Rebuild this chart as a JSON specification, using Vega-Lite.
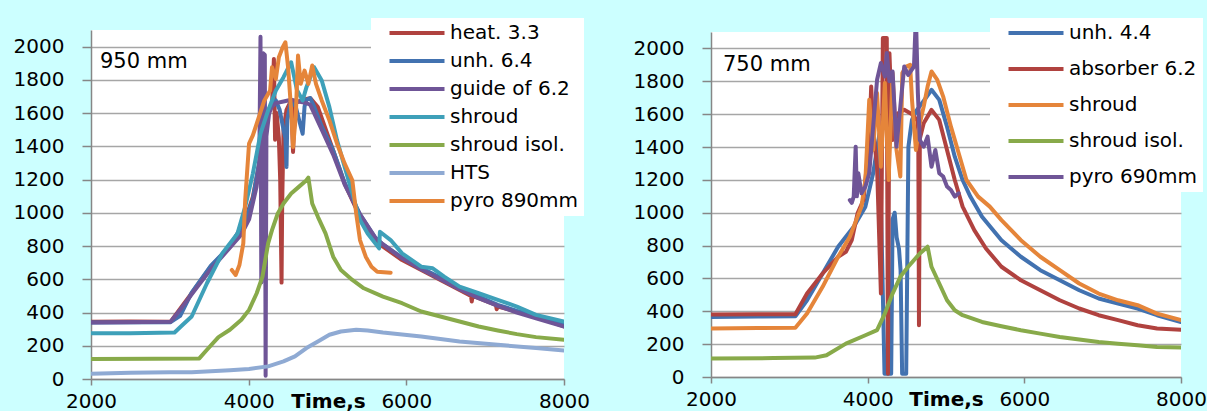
{
"$schema": "https://vega.github.io/schema/vega-lite/v6.json",
"background": "#ccffff",
"padding": {"left": 13, "top": 18, "right": 0, "bottom": 0},
"autosize": {"type": "pad"},
"datasets": {
"left": [
{"s":"heat. 3.3","t":2000,"v":345},{"s":"heat. 3.3","t":2500,"v":346},{"s":"heat. 3.3","t":3010,"v":345},{"s":"heat. 3.3","t":3277,"v":516},{"s":"heat. 3.3","t":3519,"v":676},{"s":"heat. 3.3","t":3762,"v":796},{"s":"heat. 3.3","t":3956,"v":956},{"s":"heat. 3.3","t":4053,"v":1096},{"s":"heat. 3.3","t":4150,"v":1336},{"s":"heat. 3.3","t":4247,"v":1616},{"s":"heat. 3.3","t":4296,"v":1650},{"s":"heat. 3.3","t":4320,"v":1926},{"s":"heat. 3.3","t":4335,"v":1440},{"s":"heat. 3.3","t":4355,"v":1600},{"s":"heat. 3.3","t":4383,"v":1450},{"s":"heat. 3.3","t":4400,"v":1200},{"s":"heat. 3.3","t":4417,"v":580},{"s":"heat. 3.3","t":4425,"v":1050},{"s":"heat. 3.3","t":4442,"v":1500},{"s":"heat. 3.3","t":4480,"v":1620},{"s":"heat. 3.3","t":4539,"v":1676},{"s":"heat. 3.3","t":4563,"v":1366},{"s":"heat. 3.3","t":4590,"v":1660},{"s":"heat. 3.3","t":4685,"v":1680},{"s":"heat. 3.3","t":4781,"v":1690},{"s":"heat. 3.3","t":4878,"v":1636},{"s":"heat. 3.3","t":5072,"v":1376},{"s":"heat. 3.3","t":5218,"v":1176},{"s":"heat. 3.3","t":5412,"v":976},{"s":"heat. 3.3","t":5607,"v":836},{"s":"heat. 3.3","t":5704,"v":796},{"s":"heat. 3.3","t":5946,"v":716},{"s":"heat. 3.3","t":6189,"v":656},{"s":"heat. 3.3","t":6432,"v":596},{"s":"heat. 3.3","t":6675,"v":536},{"s":"heat. 3.3","t":6820,"v":500},{"s":"heat. 3.3","t":6830,"v":466},{"s":"heat. 3.3","t":6840,"v":500},{"s":"heat. 3.3","t":6917,"v":486},{"s":"heat. 3.3","t":7136,"v":446},{"s":"heat. 3.3","t":7146,"v":420},{"s":"heat. 3.3","t":7160,"v":436},{"s":"heat. 3.3","t":7402,"v":406},{"s":"heat. 3.3","t":7645,"v":376},{"s":"heat. 3.3","t":8000,"v":316},
{"s":"unh. 6.4","t":2000,"v":340},{"s":"unh. 6.4","t":3010,"v":342},{"s":"unh. 6.4","t":3131,"v":380},{"s":"unh. 6.4","t":3277,"v":520},{"s":"unh. 6.4","t":3519,"v":680},{"s":"unh. 6.4","t":3762,"v":800},{"s":"unh. 6.4","t":3956,"v":950},{"s":"unh. 6.4","t":4053,"v":1080},{"s":"unh. 6.4","t":4150,"v":1350},{"s":"unh. 6.4","t":4223,"v":1580},{"s":"unh. 6.4","t":4296,"v":1660},{"s":"unh. 6.4","t":4345,"v":1676},{"s":"unh. 6.4","t":4393,"v":1620},{"s":"unh. 6.4","t":4442,"v":1500},{"s":"unh. 6.4","t":4466,"v":1450},{"s":"unh. 6.4","t":4480,"v":1276},{"s":"unh. 6.4","t":4490,"v":1560},{"s":"unh. 6.4","t":4539,"v":1676},{"s":"unh. 6.4","t":4597,"v":1640},{"s":"unh. 6.4","t":4660,"v":1520},{"s":"unh. 6.4","t":4685,"v":1476},{"s":"unh. 6.4","t":4709,"v":1640},{"s":"unh. 6.4","t":4733,"v":1680},{"s":"unh. 6.4","t":4781,"v":1690},{"s":"unh. 6.4","t":4830,"v":1640},{"s":"unh. 6.4","t":4927,"v":1520},{"s":"unh. 6.4","t":5072,"v":1376},{"s":"unh. 6.4","t":5218,"v":1180},{"s":"unh. 6.4","t":5412,"v":990},{"s":"unh. 6.4","t":5607,"v":850},{"s":"unh. 6.4","t":5704,"v":810},{"s":"unh. 6.4","t":5946,"v":730},{"s":"unh. 6.4","t":6189,"v":668},{"s":"unh. 6.4","t":6432,"v":610},{"s":"unh. 6.4","t":6675,"v":548},{"s":"unh. 6.4","t":6917,"v":496},{"s":"unh. 6.4","t":7160,"v":446},{"s":"unh. 6.4","t":7402,"v":410},{"s":"unh. 6.4","t":7645,"v":380},{"s":"unh. 6.4","t":8000,"v":330},
{"s":"guide of 6.2","t":2000,"v":340},{"s":"guide of 6.2","t":3010,"v":345},{"s":"guide of 6.2","t":3131,"v":416},{"s":"guide of 6.2","t":3277,"v":510},{"s":"guide of 6.2","t":3519,"v":660},{"s":"guide of 6.2","t":3762,"v":790},{"s":"guide of 6.2","t":3908,"v":870},{"s":"guide of 6.2","t":4005,"v":960},{"s":"guide of 6.2","t":4100,"v":1156},{"s":"guide of 6.2","t":4135,"v":1300},{"s":"guide of 6.2","t":4140,"v":1560},{"s":"guide of 6.2","t":4150,"v":2060},{"s":"guide of 6.2","t":4160,"v":580},{"s":"guide of 6.2","t":4175,"v":1600},{"s":"guide of 6.2","t":4185,"v":1960},{"s":"guide of 6.2","t":4205,"v":1950},{"s":"guide of 6.2","t":4215,"v":20},{"s":"guide of 6.2","t":4225,"v":1460},{"s":"guide of 6.2","t":4260,"v":1600},{"s":"guide of 6.2","t":4296,"v":1640},{"s":"guide of 6.2","t":4345,"v":1660},{"s":"guide of 6.2","t":4442,"v":1670},{"s":"guide of 6.2","t":4539,"v":1680},{"s":"guide of 6.2","t":4636,"v":1670},{"s":"guide of 6.2","t":4733,"v":1660},{"s":"guide of 6.2","t":4781,"v":1650},{"s":"guide of 6.2","t":4830,"v":1600},{"s":"guide of 6.2","t":4927,"v":1500},{"s":"guide of 6.2","t":5072,"v":1350},{"s":"guide of 6.2","t":5218,"v":1170},{"s":"guide of 6.2","t":5412,"v":990},{"s":"guide of 6.2","t":5607,"v":850},{"s":"guide of 6.2","t":5704,"v":810},{"s":"guide of 6.2","t":5946,"v":726},{"s":"guide of 6.2","t":6189,"v":660},{"s":"guide of 6.2","t":6432,"v":600},{"s":"guide of 6.2","t":6675,"v":540},{"s":"guide of 6.2","t":6917,"v":486},{"s":"guide of 6.2","t":7160,"v":440},{"s":"guide of 6.2","t":7402,"v":400},{"s":"guide of 6.2","t":7645,"v":365},{"s":"guide of 6.2","t":8000,"v":316},
{"s":"shroud","t":2000,"v":275},{"s":"shroud","t":2500,"v":276},{"s":"shroud","t":3060,"v":280},{"s":"shroud","t":3150,"v":320},{"s":"shroud","t":3277,"v":376},{"s":"shroud","t":3471,"v":576},{"s":"shroud","t":3665,"v":756},{"s":"shroud","t":3859,"v":876},{"s":"shroud","t":3956,"v":1036},{"s":"shroud","t":4053,"v":1236},{"s":"shroud","t":4150,"v":1476},{"s":"shroud","t":4247,"v":1616},{"s":"shroud","t":4345,"v":1736},{"s":"shroud","t":4442,"v":1816},{"s":"shroud","t":4539,"v":1906},{"s":"shroud","t":4612,"v":1740},{"s":"shroud","t":4685,"v":1676},{"s":"shroud","t":4733,"v":1756},{"s":"shroud","t":4830,"v":1876},{"s":"shroud","t":4927,"v":1796},{"s":"shroud","t":5024,"v":1636},{"s":"shroud","t":5121,"v":1436},{"s":"shroud","t":5218,"v":1276},{"s":"shroud","t":5315,"v":1116},{"s":"shroud","t":5412,"v":956},{"s":"shroud","t":5509,"v":876},{"s":"shroud","t":5655,"v":786},{"s":"shroud","t":5665,"v":886},{"s":"shroud","t":5801,"v":836},{"s":"shroud","t":5946,"v":756},{"s":"shroud","t":6189,"v":676},{"s":"shroud","t":6335,"v":666},{"s":"shroud","t":6480,"v":616},{"s":"shroud","t":6675,"v":556},{"s":"shroud","t":6917,"v":516},{"s":"shroud","t":7160,"v":476},{"s":"shroud","t":7402,"v":436},{"s":"shroud","t":7645,"v":386},{"s":"shroud","t":8000,"v":346},
{"s":"shroud isol.","t":2000,"v":120},{"s":"shroud isol.","t":2800,"v":122},{"s":"shroud isol.","t":3374,"v":124},{"s":"shroud isol.","t":3471,"v":176},{"s":"shroud isol.","t":3617,"v":252},{"s":"shroud isol.","t":3762,"v":296},{"s":"shroud isol.","t":3908,"v":356},{"s":"shroud isol.","t":4005,"v":416},{"s":"shroud isol.","t":4102,"v":516},{"s":"shroud isol.","t":4175,"v":616},{"s":"shroud isol.","t":4247,"v":816},{"s":"shroud isol.","t":4296,"v":896},{"s":"shroud isol.","t":4369,"v":996},{"s":"shroud isol.","t":4442,"v":1056},{"s":"shroud isol.","t":4539,"v":1116},{"s":"shroud isol.","t":4636,"v":1156},{"s":"shroud isol.","t":4733,"v":1196},{"s":"shroud isol.","t":4757,"v":1212},{"s":"shroud isol.","t":4806,"v":1056},{"s":"shroud isol.","t":4878,"v":976},{"s":"shroud isol.","t":4975,"v":876},{"s":"shroud isol.","t":5072,"v":736},{"s":"shroud isol.","t":5170,"v":656},{"s":"shroud isol.","t":5315,"v":596},{"s":"shroud isol.","t":5461,"v":546},{"s":"shroud isol.","t":5704,"v":496},{"s":"shroud isol.","t":5946,"v":456},{"s":"shroud isol.","t":6189,"v":406},{"s":"shroud isol.","t":6432,"v":376},{"s":"shroud isol.","t":6675,"v":346},{"s":"shroud isol.","t":6917,"v":316},{"s":"shroud isol.","t":7160,"v":292},{"s":"shroud isol.","t":7402,"v":270},{"s":"shroud isol.","t":7645,"v":252},{"s":"shroud isol.","t":8000,"v":236},
{"s":"HTS","t":2000,"v":32},{"s":"HTS","t":2500,"v":38},{"s":"HTS","t":3000,"v":40},{"s":"HTS","t":3277,"v":40},{"s":"HTS","t":3762,"v":52},{"s":"HTS","t":4005,"v":60},{"s":"HTS","t":4247,"v":76},{"s":"HTS","t":4442,"v":106},{"s":"HTS","t":4587,"v":136},{"s":"HTS","t":4733,"v":186},{"s":"HTS","t":4878,"v":226},{"s":"HTS","t":5024,"v":266},{"s":"HTS","t":5170,"v":286},{"s":"HTS","t":5364,"v":296},{"s":"HTS","t":5509,"v":292},{"s":"HTS","t":5704,"v":280},{"s":"HTS","t":6189,"v":256},{"s":"HTS","t":6675,"v":226},{"s":"HTS","t":7160,"v":206},{"s":"HTS","t":7645,"v":186},{"s":"HTS","t":8000,"v":172},
{"s":"pyro 890mm","t":3786,"v":656},{"s":"pyro 890mm","t":3835,"v":626},{"s":"pyro 890mm","t":3883,"v":686},{"s":"pyro 890mm","t":3932,"v":816},{"s":"pyro 890mm","t":3956,"v":1076},{"s":"pyro 890mm","t":4005,"v":1416},{"s":"pyro 890mm","t":4053,"v":1466},{"s":"pyro 890mm","t":4102,"v":1536},{"s":"pyro 890mm","t":4199,"v":1676},{"s":"pyro 890mm","t":4272,"v":1736},{"s":"pyro 890mm","t":4296,"v":1876},{"s":"pyro 890mm","t":4345,"v":1806},{"s":"pyro 890mm","t":4383,"v":1936},{"s":"pyro 890mm","t":4432,"v":1996},{"s":"pyro 890mm","t":4466,"v":2026},{"s":"pyro 890mm","t":4500,"v":1876},{"s":"pyro 890mm","t":4539,"v":1616},{"s":"pyro 890mm","t":4563,"v":1396},{"s":"pyro 890mm","t":4597,"v":1576},{"s":"pyro 890mm","t":4626,"v":1946},{"s":"pyro 890mm","t":4660,"v":1776},{"s":"pyro 890mm","t":4709,"v":1856},{"s":"pyro 890mm","t":4757,"v":1776},{"s":"pyro 890mm","t":4806,"v":1886},{"s":"pyro 890mm","t":4854,"v":1776},{"s":"pyro 890mm","t":4927,"v":1676},{"s":"pyro 890mm","t":5024,"v":1556},{"s":"pyro 890mm","t":5121,"v":1416},{"s":"pyro 890mm","t":5218,"v":1296},{"s":"pyro 890mm","t":5315,"v":1196},{"s":"pyro 890mm","t":5364,"v":996},{"s":"pyro 890mm","t":5412,"v":836},{"s":"pyro 890mm","t":5485,"v":736},{"s":"pyro 890mm","t":5558,"v":676},{"s":"pyro 890mm","t":5631,"v":646},{"s":"pyro 890mm","t":5801,"v":640}
],
"right": [
{"s":"unh. 4.4","t":2000,"v":365},{"s":"unh. 4.4","t":2600,"v":368},{"s":"unh. 4.4","t":3077,"v":370},{"s":"unh. 4.4","t":3226,"v":467},{"s":"unh. 4.4","t":3425,"v":630},{"s":"unh. 4.4","t":3623,"v":793},{"s":"unh. 4.4","t":3822,"v":915},{"s":"unh. 4.4","t":3971,"v":1037},{"s":"unh. 4.4","t":4070,"v":1240},{"s":"unh. 4.4","t":4150,"v":1480},{"s":"unh. 4.4","t":4194,"v":500},{"s":"unh. 4.4","t":4215,"v":20},{"s":"unh. 4.4","t":4300,"v":20},{"s":"unh. 4.4","t":4318,"v":960},{"s":"unh. 4.4","t":4345,"v":1000},{"s":"unh. 4.4","t":4370,"v":850},{"s":"unh. 4.4","t":4400,"v":780},{"s":"unh. 4.4","t":4420,"v":650},{"s":"unh. 4.4","t":4440,"v":20},{"s":"unh. 4.4","t":4492,"v":20},{"s":"unh. 4.4","t":4520,"v":1400},{"s":"unh. 4.4","t":4542,"v":1484},{"s":"unh. 4.4","t":4566,"v":1565},{"s":"unh. 4.4","t":4620,"v":1620},{"s":"unh. 4.4","t":4715,"v":1680},{"s":"unh. 4.4","t":4815,"v":1748},{"s":"unh. 4.4","t":4914,"v":1687},{"s":"unh. 4.4","t":5013,"v":1524},{"s":"unh. 4.4","t":5112,"v":1341},{"s":"unh. 4.4","t":5212,"v":1199},{"s":"unh. 4.4","t":5311,"v":1098},{"s":"unh. 4.4","t":5460,"v":976},{"s":"unh. 4.4","t":5708,"v":833},{"s":"unh. 4.4","t":5956,"v":732},{"s":"unh. 4.4","t":6204,"v":650},{"s":"unh. 4.4","t":6453,"v":589},{"s":"unh. 4.4","t":6701,"v":528},{"s":"unh. 4.4","t":6949,"v":478},{"s":"unh. 4.4","t":7197,"v":447},{"s":"unh. 4.4","t":7446,"v":417},{"s":"unh. 4.4","t":7694,"v":376},{"s":"unh. 4.4","t":8000,"v":335},
{"s":"absorber 6.2","t":2000,"v":380},{"s":"absorber 6.2","t":2600,"v":382},{"s":"absorber 6.2","t":3077,"v":382},{"s":"absorber 6.2","t":3226,"v":508},{"s":"absorber 6.2","t":3425,"v":630},{"s":"absorber 6.2","t":3623,"v":732},{"s":"absorber 6.2","t":3722,"v":762},{"s":"absorber 6.2","t":3797,"v":833},{"s":"absorber 6.2","t":3871,"v":996},{"s":"absorber 6.2","t":3946,"v":1077},{"s":"absorber 6.2","t":4020,"v":1443},{"s":"absorber 6.2","t":4045,"v":1768},{"s":"absorber 6.2","t":4070,"v":1500},{"s":"absorber 6.2","t":4120,"v":1280},{"s":"absorber 6.2","t":4169,"v":508},{"s":"absorber 6.2","t":4194,"v":2063},{"s":"absorber 6.2","t":4244,"v":2063},{"s":"absorber 6.2","t":4259,"v":20},{"s":"absorber 6.2","t":4278,"v":1971},{"s":"absorber 6.2","t":4318,"v":1443},{"s":"absorber 6.2","t":4368,"v":1600},{"s":"absorber 6.2","t":4467,"v":1626},{"s":"absorber 6.2","t":4566,"v":1600},{"s":"absorber 6.2","t":4636,"v":1560},{"s":"absorber 6.2","t":4646,"v":1500},{"s":"absorber 6.2","t":4655,"v":315},{"s":"absorber 6.2","t":4666,"v":1450},{"s":"absorber 6.2","t":4715,"v":1545},{"s":"absorber 6.2","t":4815,"v":1626},{"s":"absorber 6.2","t":4914,"v":1565},{"s":"absorber 6.2","t":5013,"v":1382},{"s":"absorber 6.2","t":5112,"v":1199},{"s":"absorber 6.2","t":5212,"v":1037},{"s":"absorber 6.2","t":5361,"v":894},{"s":"absorber 6.2","t":5510,"v":782},{"s":"absorber 6.2","t":5708,"v":671},{"s":"absorber 6.2","t":5956,"v":589},{"s":"absorber 6.2","t":6204,"v":528},{"s":"absorber 6.2","t":6453,"v":467},{"s":"absorber 6.2","t":6701,"v":417},{"s":"absorber 6.2","t":6949,"v":376},{"s":"absorber 6.2","t":7197,"v":346},{"s":"absorber 6.2","t":7446,"v":315},{"s":"absorber 6.2","t":7694,"v":295},{"s":"absorber 6.2","t":8000,"v":287},
{"s":"shroud","t":2000,"v":295},{"s":"shroud","t":2600,"v":298},{"s":"shroud","t":3077,"v":300},{"s":"shroud","t":3226,"v":386},{"s":"shroud","t":3425,"v":549},{"s":"shroud","t":3623,"v":732},{"s":"shroud","t":3772,"v":854},{"s":"shroud","t":3921,"v":1037},{"s":"shroud","t":3971,"v":1199},{"s":"shroud","t":4020,"v":1687},{"s":"shroud","t":4070,"v":1382},{"s":"shroud","t":4120,"v":1728},{"s":"shroud","t":4169,"v":1280},{"s":"shroud","t":4219,"v":1789},{"s":"shroud","t":4268,"v":1199},{"s":"shroud","t":4318,"v":1850},{"s":"shroud","t":4368,"v":1382},{"s":"shroud","t":4417,"v":1220},{"s":"shroud","t":4442,"v":1850},{"s":"shroud","t":4492,"v":1890},{"s":"shroud","t":4542,"v":1900},{"s":"shroud","t":4566,"v":1687},{"s":"shroud","t":4616,"v":1382},{"s":"shroud","t":4666,"v":1545},{"s":"shroud","t":4715,"v":1646},{"s":"shroud","t":4765,"v":1768},{"s":"shroud","t":4815,"v":1860},{"s":"shroud","t":4889,"v":1809},{"s":"shroud","t":4964,"v":1707},{"s":"shroud","t":5063,"v":1524},{"s":"shroud","t":5162,"v":1362},{"s":"shroud","t":5261,"v":1199},{"s":"shroud","t":5410,"v":1098},{"s":"shroud","t":5559,"v":1037},{"s":"shroud","t":5708,"v":955},{"s":"shroud","t":5956,"v":833},{"s":"shroud","t":6204,"v":732},{"s":"shroud","t":6453,"v":650},{"s":"shroud","t":6701,"v":569},{"s":"shroud","t":6949,"v":508},{"s":"shroud","t":7197,"v":467},{"s":"shroud","t":7446,"v":437},{"s":"shroud","t":7694,"v":386},{"s":"shroud","t":8000,"v":346},
{"s":"shroud isol.","t":2000,"v":112},{"s":"shroud isol.","t":2800,"v":115},{"s":"shroud isol.","t":3325,"v":118},{"s":"shroud isol.","t":3474,"v":132},{"s":"shroud isol.","t":3722,"v":203},{"s":"shroud isol.","t":3971,"v":254},{"s":"shroud isol.","t":4120,"v":285},{"s":"shroud isol.","t":4219,"v":386},{"s":"shroud isol.","t":4318,"v":508},{"s":"shroud isol.","t":4417,"v":610},{"s":"shroud isol.","t":4517,"v":671},{"s":"shroud isol.","t":4666,"v":752},{"s":"shroud isol.","t":4765,"v":793},{"s":"shroud isol.","t":4815,"v":671},{"s":"shroud isol.","t":4914,"v":569},{"s":"shroud isol.","t":5013,"v":467},{"s":"shroud isol.","t":5112,"v":406},{"s":"shroud isol.","t":5212,"v":376},{"s":"shroud isol.","t":5460,"v":335},{"s":"shroud isol.","t":5708,"v":309},{"s":"shroud isol.","t":5956,"v":285},{"s":"shroud isol.","t":6204,"v":264},{"s":"shroud isol.","t":6453,"v":244},{"s":"shroud isol.","t":6701,"v":228},{"s":"shroud isol.","t":6949,"v":213},{"s":"shroud isol.","t":7197,"v":203},{"s":"shroud isol.","t":7446,"v":193},{"s":"shroud isol.","t":7694,"v":183},{"s":"shroud isol.","t":8000,"v":179},
{"s":"pyro 690mm","t":3772,"v":1077},{"s":"pyro 690mm","t":3797,"v":1060},{"s":"pyro 690mm","t":3822,"v":1098},{"s":"pyro 690mm","t":3847,"v":1402},{"s":"pyro 690mm","t":3862,"v":1100},{"s":"pyro 690mm","t":3881,"v":1240},{"s":"pyro 690mm","t":3921,"v":1118},{"s":"pyro 690mm","t":3971,"v":1159},{"s":"pyro 690mm","t":4020,"v":1240},{"s":"pyro 690mm","t":4070,"v":1524},{"s":"pyro 690mm","t":4120,"v":1809},{"s":"pyro 690mm","t":4169,"v":1911},{"s":"pyro 690mm","t":4219,"v":1829},{"s":"pyro 690mm","t":4244,"v":1972},{"s":"pyro 690mm","t":4278,"v":1800},{"s":"pyro 690mm","t":4318,"v":1860},{"s":"pyro 690mm","t":4368,"v":1402},{"s":"pyro 690mm","t":4417,"v":1646},{"s":"pyro 690mm","t":4467,"v":1890},{"s":"pyro 690mm","t":4517,"v":1839},{"s":"pyro 690mm","t":4591,"v":1890},{"s":"pyro 690mm","t":4616,"v":2200},{"s":"pyro 690mm","t":4641,"v":1728},{"s":"pyro 690mm","t":4666,"v":1443},{"s":"pyro 690mm","t":4715,"v":1402},{"s":"pyro 690mm","t":4765,"v":1463},{"s":"pyro 690mm","t":4815,"v":1280},{"s":"pyro 690mm","t":4864,"v":1382},{"s":"pyro 690mm","t":4914,"v":1240},{"s":"pyro 690mm","t":4964,"v":1220},{"s":"pyro 690mm","t":5013,"v":1159},{"s":"pyro 690mm","t":5063,"v":1138},{"s":"pyro 690mm","t":5112,"v":1098},{"s":"pyro 690mm","t":5162,"v":1118}
]
},
"hconcat": [
{
"width": 473, "height": 349,
"encoding": {
"x": {"field": "t", "type": "quantitative", "scale": {"domain": [2000, 8000], "nice": false, "zero": false}, "axis": {"values": [2000, 4000, 6000, 8000], "format": "d", "title": "Time,s", "titleX": 237, "titleY": 12, "titleAlign": "center", "titleBaseline": "top"}},
"y": {"field": "v", "type": "quantitative", "scale": {"domain": [0, 2100], "nice": false}, "axis": {"values": [0,200,400,600,800,1000,1200,1400,1600,1800,2000], "format": "d", "title": null}}
},
"layer": [
{
"data": {"name": "left"},
"mark": {"type": "line", "clip": true, "strokeCap": "round", "strokeJoin": "round"},
"encoding": {
"color": {"field": "s", "type": "nominal", "scale": {"domain": ["heat. 3.3","unh. 6.4","guide of 6.2","shroud","shroud isol.","HTS","pyro 890mm"], "range": ["#b0423f","#4272b0","#6f5597","#3ea0b9","#88aa4a","#8faad3","#e5853a"]}, "legend": {"orient": "none", "legendX": 280, "legendY": -12, "rowPadding": 8}},
"strokeWidth": {"field": "s", "type": "nominal", "scale": {"domain": ["heat. 3.3","unh. 6.4","guide of 6.2","shroud","shroud isol.","HTS","pyro 890mm"], "range": [4,4,4,4,4,4,3]}, "legend": {"orient": "none", "legendX": 280, "legendY": -12, "rowPadding": 8}}
}
},
{
"data": {"values": [{"label": "950 mm", "t": 2114, "v": 1908}]},
"mark": {"type": "text", "align": "left", "baseline": "middle", "font": "DejaVu Sans", "fontSize": 21, "color": "black"},
"encoding": {"text": {"field": "label"}}
}
]
},
{
"width": 470, "height": 345,
"encoding": {
"x": {"field": "t", "type": "quantitative", "scale": {"domain": [2000, 8000], "nice": false, "zero": false}, "axis": {"values": [2000, 4000, 6000, 8000], "format": "d", "title": "Time,s", "titleX": 235, "titleY": 12, "titleAlign": "center", "titleBaseline": "top"}},
"y": {"field": "v", "type": "quantitative", "scale": {"domain": [0, 2100], "nice": false}, "axis": {"values": [0,200,400,600,800,1000,1200,1400,1600,1800,2000], "format": "d", "title": null}}
},
"layer": [
{
"data": {"name": "right"},
"mark": {"type": "line", "clip": true, "strokeCap": "round", "strokeJoin": "round"},
"encoding": {
"color": {"field": "s", "type": "nominal", "scale": {"domain": ["unh. 4.4","absorber 6.2","shroud","shroud isol.","pyro 690mm"], "range": ["#4272b0","#b0423f","#e5853a","#88aa4a","#6f5597"]}, "legend": {"orient": "none", "legendX": 279, "legendY": -14, "rowPadding": 16}},
"strokeWidth": {"field": "s", "type": "nominal", "scale": {"domain": ["unh. 4.4","absorber 6.2","shroud","shroud isol.","pyro 690mm"], "range": [4,4,4,4,3]}, "legend": {"orient": "none", "legendX": 279, "legendY": -14, "rowPadding": 16}}
}
},
{
"data": {"values": [{"label": "750 mm", "t": 2153, "v": 1900}]},
"mark": {"type": "text", "align": "left", "baseline": "middle", "font": "DejaVu Sans", "fontSize": 21, "color": "black"},
"encoding": {"text": {"field": "label"}}
}
]
}
],
"spacing": 147,
"bounds": "flush",
"center": true,
"resolve": {"scale": {"color": "independent", "strokeWidth": "independent", "x": "independent", "y": "independent"}, "legend": {"color": "independent", "strokeWidth": "independent"}},
"config": {
"view": {"stroke": null, "fill": "white"},
"axis": {"labelFont": "DejaVu Sans", "labelFontSize": 20, "labelColor": "black", "domainColor": "#868686", "domainWidth": 1.5, "tickColor": "#868686", "tickWidth": 1.5, "gridColor": "#a6a6a6", "gridWidth": 1.5, "titleFont": "DejaVu Sans", "titleFontSize": 20, "titleFontWeight": "bold", "titleColor": "black", "labelOverlap": false, "labelFlush": false},
"axisX": {"grid": false, "tickSize": 6, "labelPadding": 6},
"axisY": {"grid": true, "tickSize": 9, "labelPadding": 18},
"legend": {"title": null, "fillColor": "white", "padding": 5, "symbolType": "M-5,0H5", "symbolSize": 121, "symbolOffset": 31, "labelOffset": 23, "symbolStrokeWidth": 4, "labelFont": "DejaVu Sans", "labelFontSize": 20, "labelColor": "black"}
}
}
